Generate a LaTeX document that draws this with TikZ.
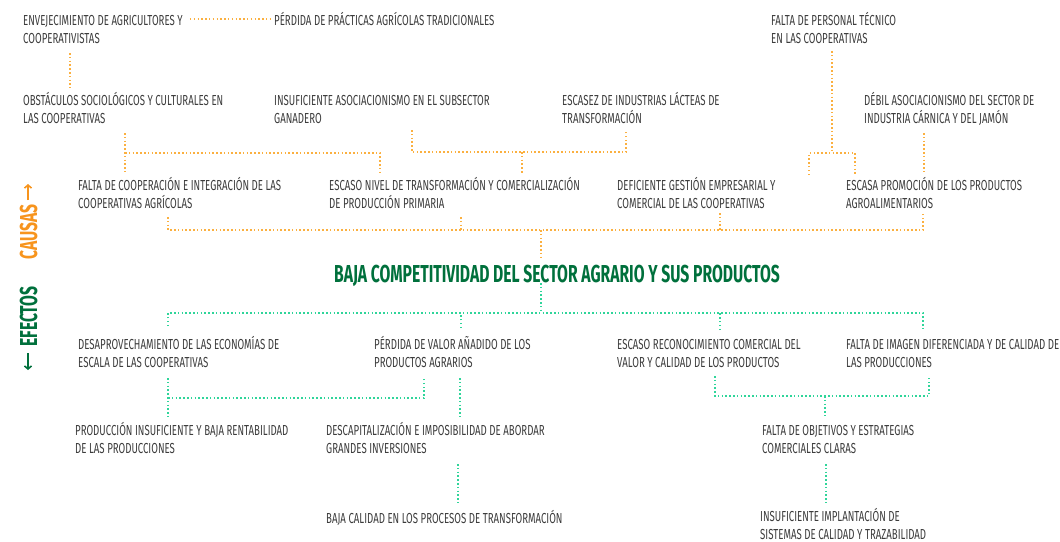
\documentclass[tikz,border=0pt]{standalone}
\usepackage{fontspec}
\setmainfont[FakeStretch=0.665]{Fira Sans}
\newfontfamily\corefont[FakeStretch=0.64]{Fira Sans}
\usetikzlibrary{arrows.meta}
\definecolor{causeorange}{HTML}{F7941D}
\definecolor{causeline}{HTML}{FBB040}
\definecolor{effectgreen}{HTML}{00703C}
\definecolor{effectline}{HTML}{2FD59A}
\definecolor{textgrey}{HTML}{3C3C3C}
\tikzset{item/.style={
    % plain text block, last baseline at the given point
    anchor=base west,
    inner sep=0pt,
    align=left,
    text=textgrey,
    font=\fontsize{14.5}{18}\selectfont
    },
    causelink/.style={
    draw=causeline,
    line width=1.5pt,
    dash pattern=on 1.5pt off 2.3pt
    },
    effectlink/.style={
    draw=effectline,
    line width=1.5pt,
    dash pattern=on 1.5pt off 2.3pt
    },
    sidelabel/.style={
    anchor=base west,
    inner sep=0pt,
    rotate=90,
    font=\corefont\fontsize{24.5}{28}\selectfont\bfseries
    },
}

\begin{document}
\begin{tikzpicture}[x=1pt,y=-1pt]
    \useasboundingbox (0,0) rectangle (1060,541);

    % causes
    \node (aging)    [item] at (23,43)   {ENVEJECIMIENTO DE AGRICULTORES Y\\COOPERATIVISTAS};
    \node (practice) [item] at (274,25)  {PÉRDIDA DE PRÁCTICAS AGRÍCOLAS TRADICIONALES};
    \node (social)   [item] at (23,123)  {OBSTÁCULOS SOCIOLÓGICOS Y CULTURALES EN\\LAS COOPERATIVAS};
    \node (livestock)[item] at (274,123) {INSUFICIENTE ASOCIACIONISMO EN EL SUBSECTOR\\GANADERO};
    \node (dairy)    [item] at (562,123) {ESCASEZ DE INDUSTRIAS LÁCTEAS DE\\TRANSFORMACIÓN};
    \node (staff)    [item] at (771,43)  {FALTA DE PERSONAL TÉCNICO\\EN LAS COOPERATIVAS};
    \node (meat)     [item] at (864,123) {DÉBIL ASOCIACIONISMO DEL SECTOR DE\\INDUSTRIA CÁRNICA Y DEL JAMÓN};

    \node (coop)     [item] at (78,208)  {FALTA DE COOPERACIÓN E INTEGRACIÓN DE LAS\\COOPERATIVAS AGRÍCOLAS};
    \node (process)  [item] at (329,208) {ESCASO NIVEL DE TRANSFORMACIÓN Y COMERCIALIZACIÓN\\DE PRODUCCIÓN PRIMARIA};
    \node (manage)   [item] at (617,208) {DEFICIENTE GESTIÓN EMPRESARIAL Y\\COMERCIAL DE LAS COOPERATIVAS};
    \node (promo)    [item] at (846,208) {ESCASA PROMOCIÓN DE LOS PRODUCTOS\\AGROALIMENTARIOS};

    % central problem
    \node (core) [anchor=base, inner sep=0pt, text=effectgreen,
                  font=\corefont\fontsize{24.5}{28}\selectfont\bfseries] at (557,282)
                  {BAJA COMPETITIVIDAD DEL SECTOR AGRARIO Y SUS PRODUCTOS};

    % effects
    \node (scale)    [item] at (78,367)  {DESAPROVECHAMIENTO DE LAS ECONOMÍAS DE\\ESCALA DE LAS COOPERATIVAS};
    \node (value)    [item] at (374,367) {PÉRDIDA DE VALOR AÑADIDO DE LOS\\PRODUCTOS AGRARIOS};
    \node (recog)    [item] at (617,367) {ESCASO RECONOCIMIENTO COMERCIAL DEL\\VALOR Y CALIDAD DE LOS PRODUCTOS};
    \node (image)    [item] at (846,367) {FALTA DE IMAGEN DIFERENCIADA Y DE CALIDAD DE\\LAS PRODUCCIONES};

    \node (yield)    [item] at (75,453)  {PRODUCCIÓN INSUFICIENTE Y BAJA RENTABILIDAD\\DE LAS PRODUCCIONES};
    \node (capital)  [item] at (326,453) {DESCAPITALIZACIÓN E IMPOSIBILIDAD DE ABORDAR\\GRANDES INVERSIONES};
    \node (quality)  [item] at (326,523) {BAJA CALIDAD EN LOS PROCESOS DE TRANSFORMACIÓN};
    \node (goals)    [item] at (762,453) {FALTA DE OBJETIVOS Y ESTRATEGIAS\\COMERCIALES CLARAS};
    \node (trace)    [item] at (760,539) {INSUFICIENTE IMPLANTACIÓN DE\\SISTEMAS DE CALIDAD Y TRAZABILIDAD};

    % side labels
    \node (causas)  [sidelabel, text=causeorange] at (37,260) {CAUSAS};
    \node (efectos) [sidelabel, text=effectgreen] at (37,347) {EFECTOS};
    \coordinate (causas tail)  at (28,200);
    \coordinate (causas tip)   at (28,184);
    \coordinate (efectos tail) at (28,353);
    \coordinate (efectos tip)  at (28,370);
    \draw[causeorange, line width=1.6pt, -{Straight Barb[length=3pt,width=7pt]}]
        (causas tail) -- (causas tip);
    \draw[effectgreen, line width=1.6pt, -{Straight Barb[length=3pt,width=7pt]}]
        (efectos tail) -- (efectos tip);

    % junctions, causes side
    \coordinate (j aging)  at (70,53);
    \coordinate (j social) at (70,88);
    \coordinate (j soc a)  at (125,133);
    \coordinate (j soc b)  at (125,153);
    \coordinate (j coop)   at (125,172);
    \coordinate (j proc a) at (380,153);
    \coordinate (j proc b) at (380,172);
    \coordinate (j live a) at (412,130);
    \coordinate (j live b) at (412,152);
    \coordinate (j dair a) at (626,130);
    \coordinate (j dair b) at (626,152);
    \coordinate (j mid a)  at (522,152);
    \coordinate (j mid b)  at (522,173);
    \coordinate (j staf a) at (832,51);
    \coordinate (j staf b) at (832,153);
    \coordinate (j man a)  at (809,153);
    \coordinate (j man b)  at (809,175);
    \coordinate (j pro a)  at (855,153);
    \coordinate (j pro b)  at (855,175);
    \coordinate (j meat a) at (924,133);
    \coordinate (j meat b) at (924,172);
    \coordinate (j b1)     at (168,217);
    \coordinate (j b2)     at (461,217);
    \coordinate (j b3)     at (720,213);
    \coordinate (j b4)     at (923,213);
    \coordinate (j bar)    at (541,230);
    \coordinate (j core a) at (541,257);

    \draw[causelink] ([xshift=7pt]aging.north east |- 0,19) -- ([xshift=-4pt]practice.west |- 0,19);
    \draw[causelink] (j aging) -- (j social);
    \draw[causelink] (j soc a) -- (j coop);
    \draw[causelink] (j soc b) -- (j proc a) -- (j proc b);
    \draw[causelink] (j live a) -- (j live b) -- (j dair b) -- (j dair a);
    \draw[causelink] (j mid a) -- (j mid b);
    \draw[causelink] (j staf a) -- (j staf b);
    \draw[causelink] (j man b) -- (j man a) -- (j pro a) -- (j pro b);
    \draw[causelink] (j meat a) -- (j meat b);
    \draw[causelink] (j b1) -- (j b1 |- j bar) -- (j b4 |- j bar) -- (j b4);
    \draw[causelink] (j b2) -- (j b2 |- j bar);
    \draw[causelink] (j b3) -- (j b3 |- j bar);
    \draw[causelink] (j bar) -- (j core a);

    % junctions, effects side
    \coordinate (j core b) at (541,283);
    \coordinate (j ebar)   at (541,313);
    \coordinate (j c1)     at (168,326);
    \coordinate (j c2)     at (461,328);
    \coordinate (j c3)     at (720,330);
    \coordinate (j c4)     at (923,330);
    \coordinate (j sc a)   at (168,378);
    \coordinate (j sc b)   at (168,398);
    \coordinate (j yield)  at (168,417);
    \coordinate (j val a)  at (424,378);
    \coordinate (j val b)  at (424,398);
    \coordinate (j val c)  at (460,378);
    \coordinate (j cap)    at (460,417);
    \coordinate (j cap a)  at (458,464);
    \coordinate (j qual)   at (458,503);
    \coordinate (j rec a)  at (715,376);
    \coordinate (j rec b)  at (715,396);
    \coordinate (j img a)  at (929,376);
    \coordinate (j img b)  at (929,396);
    \coordinate (j mid c)  at (825,396);
    \coordinate (j goals)  at (825,416);
    \coordinate (j goal a) at (826,464);
    \coordinate (j trace)  at (826,503);

    \draw[effectlink] (j core b) -- (j ebar);
    \draw[effectlink] (j c1) -- (j c1 |- j ebar) -- (j c4 |- j ebar) -- (j c4);
    \draw[effectlink] (j c2) -- (j c2 |- j ebar);
    \draw[effectlink] (j c3) -- (j c3 |- j ebar);
    \draw[effectlink] (j sc a) -- (j yield);
    \draw[effectlink] (j sc b) -- (j val b) -- (j val a);
    \draw[effectlink] (j val c) -- (j cap);
    \draw[effectlink] (j cap a) -- (j qual);
    \draw[effectlink] (j rec a) -- (j rec b) -- (j img b) -- (j img a);
    \draw[effectlink] (j mid c) -- (j goals);
    \draw[effectlink] (j goal a) -- (j trace);
\end{tikzpicture}
\end{document}
